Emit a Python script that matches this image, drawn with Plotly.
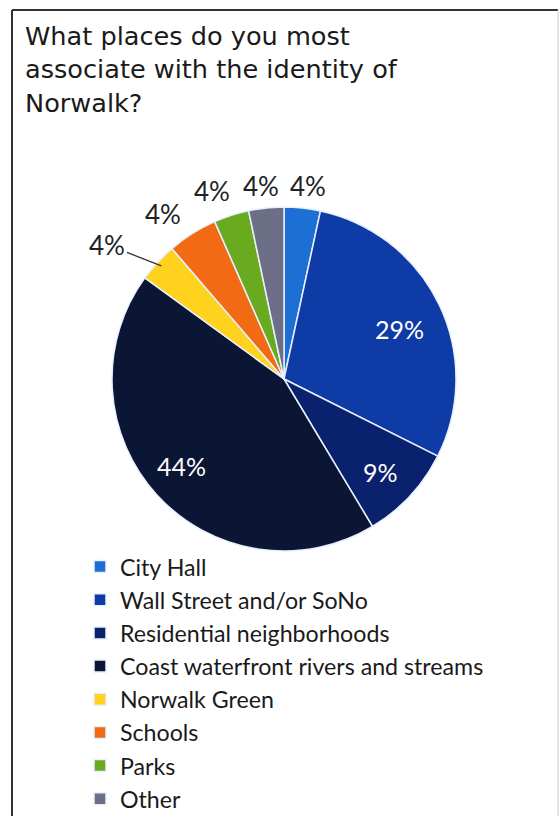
import math
import plotly.graph_objects as go

categories = ["City Hall", "Wall Street and/or SoNo", "Residential neighborhoods",
              "Coast waterfront rivers and streams", "Norwalk Green", "Schools",
              "Parks", "Other"]
shares = [3.4, 29.0, 9.0, 43.6, 3.7, 4.7, 3.3, 3.3]
shown_labels = ["4%", "29%", "9%", "44%", "4%", "4%", "4%", "4%"]

colors = ["#1E6FD4", "#0E3BA6", "#0A226E", "#0B1534", "#FFD21E", "#F26B14", "#6AAA1F", "#6C6F86"]
# label placement (radius as fraction of pie radius, small angular nudge in degrees)
label_radius = [1.13, 0.73, 0.78, 0.78, 1.29, 1.19, 1.17, 1.13]
angle_nudge = [1, 2, 1, 2, -5.4, -4, -3, -1]
inside = [False, True, True, True, False, False, False, False]
leader = [False, False, False, False, True, False, False, False]

W, H = 560, 816
cx, cy, r = 284, 379, 172

fig = go.Figure(go.Pie(
    labels=categories, values=shares,
    textinfo="none",
    marker=dict(colors=colors, line=dict(color="#E8F0FF", width=1.5)),
    sort=False, direction="clockwise", rotation=0,
    domain=dict(x=[(cx - r) / W, (cx + r) / W], y=[1 - (cy + r) / H, 1 - (cy - r) / H]),
    hoverinfo="label+percent",
))


def to_paper(px, py):
    return px / W, 1 - py / H


annotations = []
total = sum(shares)
cum = 0.0
for i, v in enumerate(shares):
    mid = (cum + v / 2) / total * 360
    cum += v
    th = math.radians(mid + angle_nudge[i])
    tx = cx + label_radius[i] * r * math.sin(th)
    ty = cy - label_radius[i] * r * math.cos(th)
    font = dict(family="Lato, Open Sans, sans-serif", size=25 if inside[i] else 26,
                color="white" if inside[i] else "#222")
    if leader[i]:
        thm = math.radians(mid)
        px = cx + 0.97 * r * math.sin(thm)
        py = cy - 0.97 * r * math.cos(thm)
        x, y = to_paper(px, py)
        annotations.append(dict(x=x, y=y, xref="paper", yref="paper", text=shown_labels[i],
                                showarrow=True, arrowhead=0, arrowwidth=1.3, arrowcolor="#333",
                                ax=tx - px, ay=ty - py, standoff=0, font=font))
    else:
        x, y = to_paper(tx, ty)
        annotations.append(dict(x=x, y=y, xref="paper", yref="paper", text=shown_labels[i],
                                showarrow=False, xanchor="center", yanchor="middle", font=font))

annotations.append(dict(
    x=23 / W, y=1 - 19 / H, xref="paper", yref="paper", xanchor="left", yanchor="top", align="left",
    showarrow=False,
    text="What places do you most<br>associate with the identity of<br>Norwalk?",
    font=dict(family="DejaVu Sans, Liberation Sans, sans-serif", size=25.6, color="#1a1a1a")))

fig.update_layout(
    width=W, height=H,
    margin=dict(l=0, r=0, t=0, b=0, autoexpand=False),
    paper_bgcolor="white", plot_bgcolor="white",
    legend=dict(x=80 / W, xanchor="left", y=1 - 545 / H, yanchor="top",
                font=dict(family="Lato, Open Sans, sans-serif", size=23.2, color="#1a1a1a"),
                traceorder="normal", itemwidth=30, bgcolor="rgba(0,0,0,0)"),
    showlegend=True,
    annotations=annotations,
    shapes=[
        dict(type="line", xref="paper", yref="paper", x0=12 / W, x1=558 / W, y0=1 - 10 / H, y1=1 - 10 / H,
             line=dict(color="#333", width=2)),
        dict(type="line", xref="paper", yref="paper", x0=12 / W, x1=12 / W, y0=1 - 10 / H, y1=0,
             line=dict(color="#333", width=2)),
        dict(type="line", xref="paper", yref="paper", x0=558 / W, x1=558 / W, y0=1 - 10 / H, y1=0,
             line=dict(color="#C8C8C8", width=1)),
    ],
)

fig.write_html("out.html", config={"displayModeBar": False},
               post_script="document.body.style.margin='0';")
